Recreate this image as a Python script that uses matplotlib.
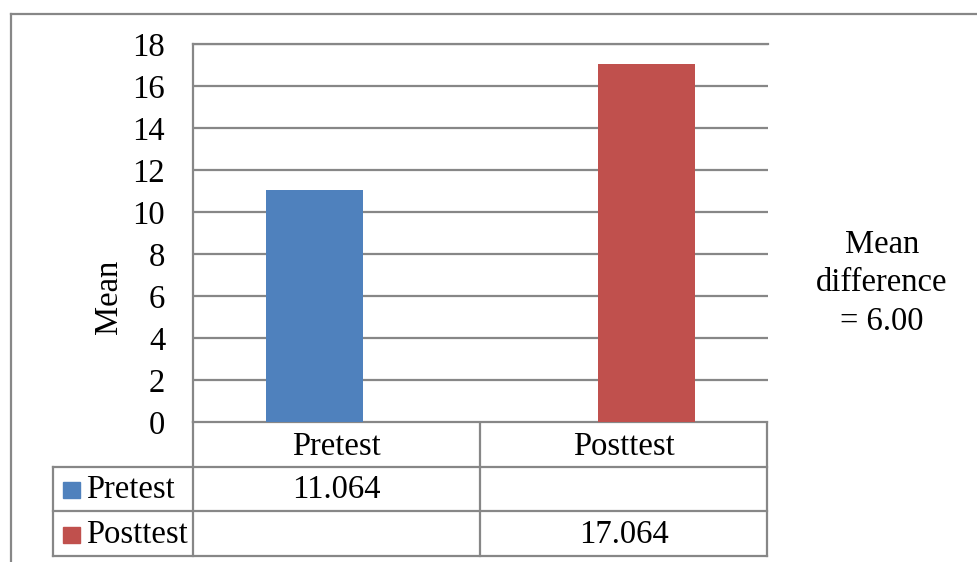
import numpy as np
import matplotlib
matplotlib.use('Agg')
import matplotlib.pyplot as plt

categories = ['Pretest', 'Posttest']
series = ['Pretest', 'Posttest']
means = [11.064, 17.064]
colors = ['#4F81BD', '#C0504D']
yticks = [0, 2, 4, 6, 8, 10, 12, 14, 16, 18]
note = 'Mean\ndifference\n= 6.00'

plt.rcParams['font.family'] = ['Liberation Serif', 'DejaVu Serif']
W, H = 977, 562
grid_c = '#878787'
fs = 23.5

fig = plt.figure(figsize=(W / 100, H / 100), dpi=100)

# full-figure overlay in pixel coords for frame and table
bg = fig.add_axes([0, 0, 1, 1])
bg.set_xlim(0, W)
bg.set_ylim(H, 0)
bg.axis('off')

# plot area
px0, px1, py_top, py_bot = 193, 768, 44, 422
ax = fig.add_axes([px0 / W, 1 - py_bot / H, (px1 - px0) / W, (py_bot - py_top) / H])
x = np.arange(len(categories))
offsets = [-0.077, 0.077]   # clustered series, each only has one non-empty category
for i in range(len(series)):
    ax.bar(x[i] + offsets[i], means[i], width=0.34, color=colors[i], zorder=3)
ax.set_xlim(-0.5, len(categories) - 0.5)
ax.set_ylim(0, 18)
ax.set_yticks(yticks)
ax.set_yticklabels([str(t) for t in yticks], fontsize=fs)
ax.yaxis.grid(True, color=grid_c, linewidth=1.6, zorder=0)
ax.tick_params(axis='y', length=0, pad=20)
ax.tick_params(axis='x', length=0, labelbottom=False)
for s in ['right', 'bottom']:
    ax.spines[s].set_visible(False)
for s in ['left', 'top']:
    ax.spines[s].set_color(grid_c)
    ax.spines[s].set_linewidth(1.6)
ax.set_ylabel('Mean', fontsize=fs)
ax.yaxis.set_label_coords(-0.12, 0.33)

# outer frame
bg.plot([11, W], [14, 14], color=grid_c, lw=1.6)
bg.plot([11, 11], [14, H], color=grid_c, lw=1.6)

# data table below the plot
col_edges = [193, 480, 767]
leg_x = 53
rows = [422, 467, 511, 556]
lk = dict(color=grid_c, lw=1.6)
bg.plot([px0, col_edges[-1]], [rows[0], rows[0]], **lk)
for r in rows[1:]:
    bg.plot([leg_x, col_edges[-1]], [r, r], **lk)
for c in col_edges:
    bg.plot([c, c], [rows[0], rows[-1]], **lk)
bg.plot([leg_x, leg_x], [rows[1], rows[-1]], **lk)

for j, cat in enumerate(categories):
    cx = (col_edges[j] + col_edges[j + 1]) / 2
    bg.text(cx, (rows[0] + rows[1]) / 2 + 2, cat, ha='center', va='center', fontsize=fs)
for i, s in enumerate(series):
    cy = (rows[i + 1] + rows[i + 2]) / 2
    bg.add_patch(plt.Rectangle((63, cy - 7), 17, 16, color=colors[i]))
    bg.text(86, cy + 1, s, ha='left', va='center', fontsize=fs)
    cx = (col_edges[i] + col_edges[i + 1]) / 2
    bg.text(cx, cy + 1, '%.3f' % means[i], ha='center', va='center', fontsize=fs)

bg.text(882, 283, note, ha='center', va='center', fontsize=fs, linespacing=1.35)

fig.savefig('out.png', dpi=100)
